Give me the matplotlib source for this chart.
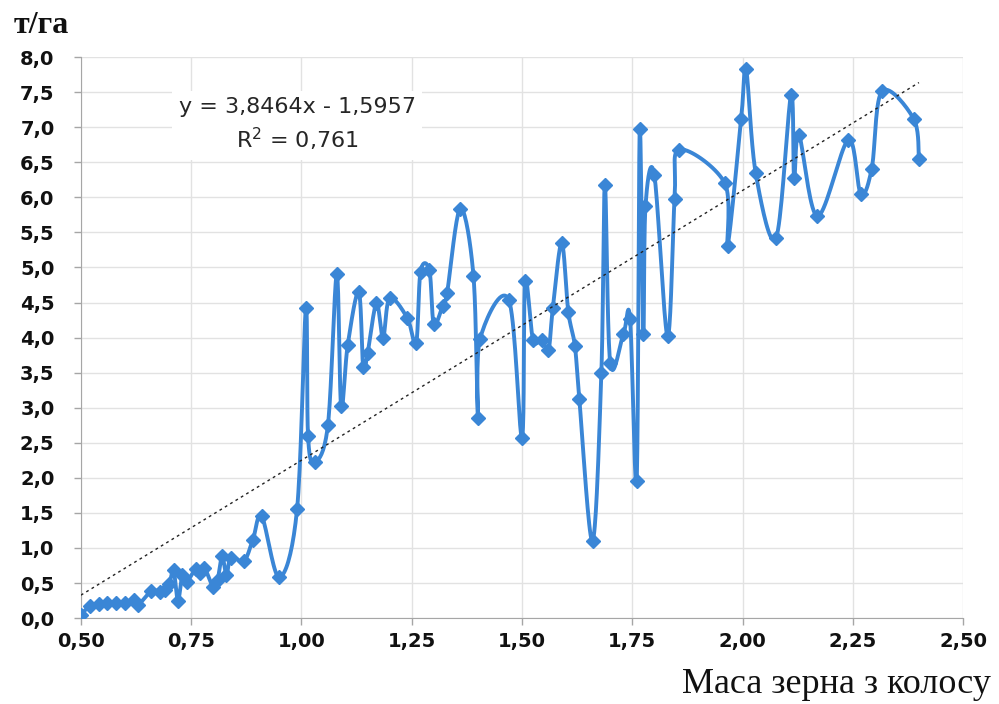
import numpy as np
import matplotlib
matplotlib.use("Agg")
import matplotlib.pyplot as plt

# values
mass = [0.50, 0.52, 0.54, 0.56, 0.58, 0.60, 0.62, 0.63, 0.66, 0.68,
        0.69, 0.70, 0.71, 0.72, 0.73, 0.74, 0.76, 0.77, 0.78, 0.80,
        0.81, 0.82, 0.83, 0.84, 0.87, 0.89, 0.91, 0.95, 0.99, 1.01,
        1.015, 1.03, 1.06, 1.08, 1.09, 1.105, 1.13, 1.14, 1.15, 1.17,
        1.185, 1.20, 1.24, 1.26, 1.27, 1.29, 1.30, 1.32, 1.33, 1.36,
        1.39, 1.40, 1.405, 1.47, 1.50, 1.507, 1.525, 1.545, 1.56, 1.57,
        1.59, 1.605, 1.62, 1.63, 1.66, 1.68, 1.688, 1.70, 1.73, 1.745,
        1.76, 1.767, 1.775, 1.78, 1.80, 1.83, 1.846, 1.857, 1.96, 1.966,
        1.997, 2.008, 2.03, 2.076, 2.11, 2.117, 2.128, 2.17, 2.24, 2.268,
        2.293, 2.316, 2.388, 2.40]
yield_t = [0.05, 0.17, 0.20, 0.21, 0.22, 0.22, 0.26, 0.19, 0.39, 0.37,
           0.40, 0.48, 0.68, 0.25, 0.62, 0.52, 0.70, 0.65, 0.72, 0.44,
           0.55, 0.88, 0.62, 0.86, 0.82, 1.12, 1.45, 0.58, 1.55, 4.42,
           2.59, 2.22, 2.75, 4.90, 3.02, 3.90, 4.65, 3.58, 3.78, 4.49,
           4.00, 4.56, 4.28, 3.92, 4.94, 4.96, 4.20, 4.45, 4.63, 5.84,
           4.88, 2.85, 3.98, 4.54, 2.57, 4.80, 3.97, 3.97, 3.82, 4.42,
           5.35, 4.37, 3.88, 3.12, 1.10, 3.50, 6.18, 3.64, 4.05, 4.27,
           1.95, 6.97, 4.05, 5.87, 6.32, 4.02, 5.98, 6.68, 6.20, 5.30,
           7.12, 7.83, 6.34, 5.42, 7.46, 6.28, 6.89, 5.73, 6.82, 6.05,
           6.41, 7.51, 7.12, 6.54]
slope, intercept = 3.8464, -1.5957
eq_text = "y = 3,8464x - 1,5957\nR$^2$ = 0,761"

x_ticks = [0.50, 0.75, 1.00, 1.25, 1.50, 1.75, 2.00, 2.25, 2.50]
y_ticks = [0.0, 0.5, 1.0, 1.5, 2.0, 2.5, 3.0, 3.5, 4.0, 4.5, 5.0, 5.5, 6.0, 6.5, 7.0, 7.5, 8.0]


def smooth(xs, ys, n=20):
    # Excel-like smoothed line (Catmull-Rom as cubic Bezier)
    p = np.column_stack([xs, ys])
    p = np.vstack([p[0], p, p[-1]])
    out = []
    t = np.linspace(0, 1, n)[:, None]
    for i in range(1, len(p) - 2):
        p0, p1, p2, p3 = p[i - 1], p[i], p[i + 1], p[i + 2]
        c1 = p1 + (p2 - p0) / 6
        c2 = p2 - (p3 - p1) / 6
        seg = ((1 - t) ** 3) * p1 + 3 * ((1 - t) ** 2) * t * c1 + 3 * (1 - t) * t ** 2 * c2 + t ** 3 * p2
        out.append(seg if i == 1 else seg[1:])
    out = np.vstack(out)
    return out[:, 0], out[:, 1]


blue = "#3a86d6"
fig = plt.figure(figsize=(9.99, 7.04), dpi=100)
ax = fig.add_axes([0.081, 0.122, 0.883, 0.797])

sx, sy = smooth(mass, yield_t)
ax.plot(sx, sy, color=blue, lw=2.8, zorder=3, solid_capstyle="round", solid_joinstyle="round")
ax.plot(mass, yield_t, ls="none", marker="D", ms=7.5, color=blue, zorder=4)

tx = np.array([min(mass), max(mass)])
ax.plot(tx, slope * tx + intercept, ls=(0, (2, 2.5)), color="#222222", lw=1.0, zorder=5)

ax.set_xlim(0.5, 2.5)
ax.set_ylim(0, 8)
ax.set_xticks(x_ticks)
ax.set_yticks(y_ticks)
ax.set_xticklabels([f"{v:.2f}".replace(".", ",") for v in x_ticks])
ax.set_yticklabels([f"{v:.1f}".replace(".", ",") for v in y_ticks])
ax.grid(True, color="#e2e2e2", lw=1.0, zorder=0)
ax.set_axisbelow(True)
for s in ["top", "right"]:
    ax.spines[s].set_visible(False)
for s in ["left", "bottom"]:
    ax.spines[s].set_color("#a6a6a6")
ax.tick_params(axis="both", colors="#a6a6a6", length=5, width=1, labelcolor="#111111")
for lab in ax.get_xticklabels() + ax.get_yticklabels():
    lab.set_fontfamily("DejaVu Sans")
    lab.set_fontweight("bold")
    lab.set_fontsize(14)
ax.tick_params(axis="x", pad=5)
ax.tick_params(axis="y", pad=14)

ax.text(0.99, 7.03, eq_text, ha="center", va="center", fontsize=16, family="DejaVu Sans",
        color="#262626", linespacing=1.4, zorder=6,
        bbox=dict(facecolor="white", edgecolor="none", pad=5))

fig.text(0.014, 0.964, "т/га", fontsize=23, fontweight="bold", family="Liberation Serif",
         ha="left", va="center", color="#111111")
fig.text(0.992, 0.028, "Маса зерна з колосу", fontsize=26, family="Liberation Serif",
         ha="right", va="center", color="#111111")

fig.savefig("out.png", dpi=100)
